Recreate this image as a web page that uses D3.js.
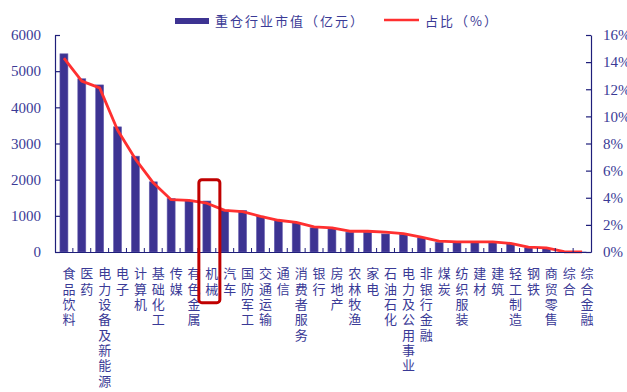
<!DOCTYPE html>
<html>
<head>
<meta charset="utf-8">
<script src="https://cdn.jsdelivr.net/npm/d3@7"></script>
<style>
  body { margin: 0; background: #fff; }
  svg { display: block; }
</style>
</head>
<body>
<svg id="chart" width="627" height="392"></svg>
<script>
var categories = ['食品饮料', '医药', '电力设备及新能源', '电子', '计算机', '基础化工', '传媒', '有色金属',
  '机械', '汽车', '国防军工', '交通运输', '通信', '消费者服务', '银行', '房地产', '农林牧渔', '家电',
  '石油石化', '电力及公用事业', '非银行金融', '煤炭', '纺织服装', '建材', '建筑', '轻工制造', '钢铁',
  '商贸零售', '综合', '综合金融'];
var marketValue = [5480, 4790, 4620, 3460, 2650, 1940, 1480, 1430, 1410, 1160, 1150, 990, 870, 820,
  670, 660, 550, 550, 500, 490, 390, 270, 270, 270, 270, 235, 115, 90, 5, 2];
var share = [14.3, 12.6, 12.1, 9.0, 6.85, 5.1, 3.86, 3.8, 3.6, 3.07, 2.98, 2.63, 2.34, 2.19,
  1.85, 1.78, 1.53, 1.53, 1.46, 1.36, 1.09, 0.8, 0.75, 0.75, 0.75, 0.63, 0.36, 0.3, 0.02, 0.01];
var leftTicks = [0, 1000, 2000, 3000, 4000, 5000, 6000];
var rightTicks = [0, 2, 4, 6, 8, 10, 12, 14, 16];
var highlight = '机械';

var margin = { top: 35, right: 36, bottom: 140, left: 55 };
var width = 627 - margin.left - margin.right;
var height = 392 - margin.top - margin.bottom;

var axisColor = '#1f1f7a';
var textColor = '#3a3a96';

var svg = d3.select('#chart');
var g = svg.append('g')
  .attr('transform', 'translate(' + margin.left + ',' + margin.top + ')');

var xScale = d3.scaleBand()
  .domain(categories)
  .range([0, width]);
var yLeft = d3.scaleLinear()
  .domain([0, 6000])
  .range([height, 0]);
var yRight = d3.scaleLinear()
  .domain([0, 16])
  .range([height, 0]);

// bars
g.selectAll('rect.bar')
  .data(categories)
  .enter()
  .append('rect')
  .attr('class', 'bar')
  .attr('x', function (d) { return xScale(d) + xScale.bandwidth() / 2 - 4; })
  .attr('width', 8)
  .attr('y', function (d, i) { return yLeft(marketValue[i]); })
  .attr('height', function (d, i) { return height - yLeft(marketValue[i]); })
  .attr('fill', '#3d3392')
  .attr('stroke', '#6a62b0')
  .attr('stroke-width', 0.6);

// line
var line = d3.line()
  .x(function (d, i) { return xScale(categories[i]) + xScale.bandwidth() / 2; })
  .y(function (d) { return yRight(d); });

g.append('path')
  .datum(share)
  .attr('d', line)
  .attr('fill', 'none')
  .attr('stroke', '#ff3030')
  .attr('stroke-width', 2.8)
  .attr('stroke-linejoin', 'round');

// axes
var leftAxis = d3.axisLeft(yLeft).tickValues(leftTicks).tickSizeInner(-5).tickSizeOuter(0)
  .tickPadding(14).tickFormat(d3.format('d'));
var rightAxis = d3.axisRight(yRight).tickValues(rightTicks).tickSizeInner(-5).tickSizeOuter(0)
  .tickPadding(12).tickFormat(function (d) { return d + '%'; });
var bottomAxis = d3.axisBottom(xScale).tickSize(0).tickFormat('');

var gl = g.append('g').call(leftAxis);
var gr = g.append('g').attr('transform', 'translate(' + width + ',0)').call(rightAxis);
var gb = g.append('g').attr('transform', 'translate(0,' + height + ')').call(bottomAxis);

[gl, gr, gb].forEach(function (a) {
  a.selectAll('path, line').attr('stroke', axisColor).attr('stroke-width', 1.2);
  a.selectAll('text')
    .attr('fill', textColor)
    .attr('font-family', '"Liberation Serif", "DejaVu Serif", serif')
    .attr('font-size', 15);
});

// category boundary ticks pointing up
gb.selectAll('line.sep')
  .data(categories.slice(1))
  .enter()
  .append('line')
  .attr('class', 'sep')
  .attr('x1', function (d) { return xScale(d); })
  .attr('x2', function (d) { return xScale(d); })
  .attr('y1', 0)
  .attr('y2', -4)
  .attr('stroke', axisColor)
  .attr('stroke-width', 1);

// vertical category labels
g.selectAll('text.cat')
  .data(categories)
  .enter()
  .append('text')
  .attr('class', 'cat')
  .attr('x', function (d) { return xScale(d) + xScale.bandwidth() / 2 + 5; })
  .attr('y', height + 15)
  .attr('fill', textColor)
  .attr('font-family', '"Noto Sans CJK SC", sans-serif')
  .attr('font-size', 13)
  .style('writing-mode', 'vertical-rl')
  .style('text-orientation', 'upright')
  .attr('letter-spacing', 2.3)
  .text(function (d) { return d; });

// highlight box around 机械
g.append('rect')
  .attr('x', xScale(highlight) + xScale.bandwidth() / 2 - 8)
  .attr('y', yLeft(2000))
  .attr('width', 21)
  .attr('height', 123)
  .attr('rx', 3)
  .attr('fill', 'none')
  .attr('stroke', '#c00000')
  .attr('stroke-width', 3);

// legend
var legend = svg.append('g')
  .attr('font-family', '"Noto Sans CJK SC", sans-serif')
  .attr('font-size', 13)
  .attr('fill', textColor);

legend.append('rect')
  .attr('x', 175).attr('y', 18).attr('width', 34).attr('height', 6)
  .attr('fill', '#3d3392');
legend.append('text')
  .attr('x', 215).attr('y', 26)
  .attr('letter-spacing', 2)
  .text('重仓行业市值（亿元）');
legend.append('line')
  .attr('x1', 384).attr('x2', 419).attr('y1', 20).attr('y2', 20)
  .attr('stroke', '#ff3030').attr('stroke-width', 2.5);
legend.append('text')
  .attr('x', 425).attr('y', 26)
  .attr('letter-spacing', 2)
  .text('占比（%）');
</script>
</body>
</html>
